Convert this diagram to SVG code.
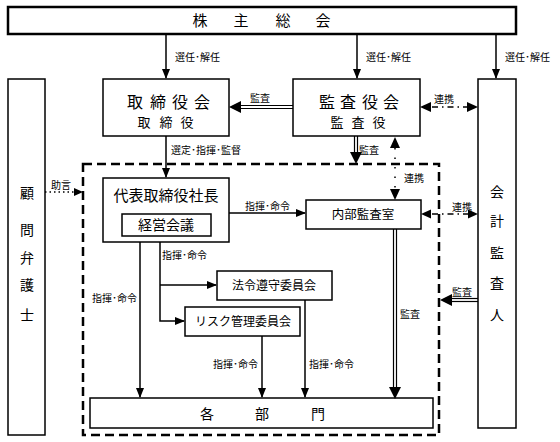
<svg xmlns="http://www.w3.org/2000/svg" width="560" height="442" viewBox="0 0 560 442">
<defs>
<style>
.box{fill:#fff;stroke:#000;stroke-width:1.5}
.thick{fill:#fff;stroke:#000;stroke-width:2.5}
.t{font-family:'Noto Sans CJK JP',sans-serif;fill:#000;text-anchor:middle}
.lbl{font-family:'Noto Sans CJK JP',sans-serif;fill:#000;font-size:10px}
.ln{stroke:#000;stroke-width:1.5;fill:none}
.dbl{stroke:#000;stroke-width:1.2;fill:none}
.dot{stroke:#000;stroke-width:1.5;fill:none;stroke-dasharray:1.5,3}
.dd{stroke:#000;stroke-width:1.5;fill:none;stroke-dasharray:6,4,1.5,4}
.dd2{stroke:#000;stroke-width:1.5;fill:none;stroke-dasharray:1.5,8}
</style>
<marker id="ah" markerWidth="10" markerHeight="8" refX="9" refY="4" orient="auto" markerUnits="userSpaceOnUse">
<path d="M0,0 L10,4 L0,8 z" fill="#000"/>
</marker>
<marker id="ahs" markerWidth="10" markerHeight="8" refX="1" refY="4" orient="auto" markerUnits="userSpaceOnUse">
<path d="M10,0 L0,4 L10,8 z" fill="#000"/>
</marker>
</defs>

<g id="dashed-area">
<rect x="83" y="164" width="356" height="271" fill="none" stroke="#000" stroke-width="2.5" stroke-dasharray="9,5"/>
</g>

<g id="kabunushi">
<rect class="thick" x="8" y="7" width="508" height="27"/>
<text class="t" font-size="15" x="200" y="26">株</text>
<text class="t" font-size="15" x="241" y="26">主</text>
<text class="t" font-size="15" x="283" y="26">総</text>
<text class="t" font-size="15" x="323" y="26">会</text>
</g>

<g id="torishimariyakukai">
<rect class="box" x="103" y="79" width="126" height="57"/>
<text class="t" font-size="16" x="135" y="108">取</text>
<text class="t" font-size="16" x="158" y="108">締</text>
<text class="t" font-size="16" x="180" y="108">役</text>
<text class="t" font-size="16" x="202" y="108">会</text>
<text class="t" font-size="13" x="144" y="127">取</text>
<text class="t" font-size="13" x="166" y="127">締</text>
<text class="t" font-size="13" x="187" y="127">役</text>
</g>

<g id="kansayakukai">
<rect class="box" x="293" y="79" width="127" height="57"/>
<text class="t" font-size="16" x="327" y="108">監</text>
<text class="t" font-size="16" x="348" y="108">査</text>
<text class="t" font-size="16" x="370" y="108">役</text>
<text class="t" font-size="16" x="391" y="108">会</text>
<text class="t" font-size="13" x="337" y="127">監</text>
<text class="t" font-size="13" x="358" y="127">査</text>
<text class="t" font-size="13" x="379" y="127">役</text>
</g>

<g id="komon">
<rect class="box" x="8" y="79" width="37" height="356"/>
<text class="t" font-size="14" x="27" y="198">顧</text>
<text class="t" font-size="14" x="27" y="235">問</text>
<text class="t" font-size="14" x="27" y="263">弁</text>
<text class="t" font-size="14" x="27" y="290">護</text>
<text class="t" font-size="14" x="27" y="320">士</text>
</g>

<g id="kaikei">
<rect class="box" x="478" y="79" width="38" height="349"/>
<text class="t" font-size="14" x="497" y="197">会</text>
<text class="t" font-size="14" x="497" y="226">計</text>
<text class="t" font-size="14" x="497" y="258">監</text>
<text class="t" font-size="14" x="497" y="288">査</text>
<text class="t" font-size="14" x="497" y="320">人</text>
</g>

<g id="shacho">
<rect class="box" x="103" y="178" width="126" height="64"/>
<text class="t" font-size="15" x="166" y="201">代表取締役社長</text>
<rect class="box" x="122" y="214" width="89" height="22"/>
<text class="t" font-size="14" x="166" y="230">経営会議</text>
</g>

<g id="naibukansa">
<rect class="box" x="306" y="200" width="115" height="29"/>
<text class="t" font-size="12.5" x="363" y="219">内部監査室</text>
</g>

<g id="horei">
<rect class="box" x="217" y="271" width="115" height="29"/>
<text class="t" font-size="12" x="274" y="290">法令遵守委員会</text>
</g>

<g id="risk">
<rect class="box" x="185" y="307" width="115" height="29"/>
<text class="t" font-size="12" x="243" y="326">リスク管理委員会</text>
</g>

<g id="kakubumon">
<rect class="box" x="90" y="398" width="343" height="30"/>
<text class="t" font-size="14" x="207" y="419">各</text>
<text class="t" font-size="14" x="262" y="419">部</text>
<text class="t" font-size="14" x="318" y="419">門</text>
</g>

<g id="connectors">
<!-- election arrows -->
<line class="ln" x1="166" y1="35" x2="166" y2="78" marker-end="url(#ah)"/>
<line class="ln" x1="357" y1="35" x2="357" y2="78" marker-end="url(#ah)"/>
<line class="ln" x1="496" y1="35" x2="496" y2="78" marker-end="url(#ah)"/>
<!-- 監査 kansayaku -> torishimariyaku -->
<line class="dbl" x1="293" y1="105.5" x2="240" y2="105.5"/>
<line class="dbl" x1="293" y1="108.5" x2="240" y2="108.5"/>
<path d="M229,107 L241,101 L241,113 z" fill="#000"/>
<!-- 連携 kansayaku <-> kaikei -->
<line class="dd" x1="432" y1="107" x2="468" y2="107"/>
<path d="M420,107 L431,102 L431,112 z" fill="#000"/>
<path d="M478,107 L467,102 L467,112 z" fill="#000"/>
<!-- 監査 down from kansayaku -->
<line class="dbl" x1="354.5" y1="136" x2="354.5" y2="153"/>
<line class="dbl" x1="357.5" y1="136" x2="357.5" y2="153"/>
<path d="M356,164 L350,152 L362,152 z" fill="#000"/>
<!-- 連携 kansayaku <-> naibukansa -->
<line class="dd2" x1="395" y1="148" x2="395" y2="190"/>
<path d="M395,137 L390,148 L400,148 z" fill="#000"/>
<path d="M395,200 L390,189 L400,189 z" fill="#000"/>
<!-- 選定・指揮・監督 -->
<line class="ln" x1="166" y1="136" x2="166" y2="177" marker-end="url(#ah)"/>
<!-- 助言 -->
<line class="dot" x1="45" y1="192" x2="75" y2="192"/>
<path d="M83,192 L74,188 L74,196 z" fill="#000"/>
<!-- shacho -> naibukansa -->
<line class="ln" x1="229" y1="213" x2="305" y2="213" marker-end="url(#ah)"/>
<!-- 連携 naibukansa <-> kaikei -->
<line class="dd" x1="432" y1="214" x2="468" y2="214"/>
<path d="M421,214 L431,209.5 L431,218.5 z" fill="#000"/>
<path d="M478,214 L468,209.5 L468,218.5 z" fill="#000"/>
<!-- shacho -> kakubumon -->
<line class="ln" x1="140" y1="242" x2="140" y2="397" marker-end="url(#ah)"/>
<!-- shacho -> committees -->
<polyline class="ln" points="160,242 160,321 184,321" marker-end="url(#ah)"/>
<line class="ln" x1="160" y1="285" x2="216" y2="285" marker-end="url(#ah)"/>
<!-- committees -> kakubumon -->
<line class="ln" x1="262" y1="336" x2="262" y2="397" marker-end="url(#ah)"/>
<line class="ln" x1="305" y1="300" x2="305" y2="397" marker-end="url(#ah)"/>
<!-- naibukansa 監査 -> kakubumon -->
<line class="dbl" x1="393.5" y1="229" x2="393.5" y2="388"/>
<line class="dbl" x1="396.5" y1="229" x2="396.5" y2="388"/>
<path d="M395,399 L389,387 L401,387 z" fill="#000"/>
<!-- kaikei 監査 -> dashed area -->
<line class="dbl" x1="478" y1="298.5" x2="451" y2="298.5"/>
<line class="dbl" x1="478" y1="301.5" x2="451" y2="301.5"/>
<path d="M440,300 L452,294 L452,306 z" fill="#000"/>
</g>

<g id="labels">
<text class="lbl" x="175" y="61">選任･解任</text>
<text class="lbl" x="366" y="61">選任･解任</text>
<text class="lbl" x="505" y="61">選任･解任</text>
<text class="lbl" x="250" y="102">監査</text>
<text class="lbl" x="434" y="103">連携</text>
<text class="lbl" x="359" y="154">監査</text>
<text class="lbl" x="171" y="154">選定･指揮･監督</text>
<text class="lbl" x="404" y="182">連携</text>
<text class="lbl" x="51" y="189">助言</text>
<text class="lbl" x="245" y="210">指揮･命令</text>
<text class="lbl" x="452" y="211">連携</text>
<text class="lbl" x="162" y="259">指揮･命令</text>
<text class="lbl" x="92" y="302">指揮･命令</text>
<text class="lbl" x="452" y="296">監査</text>
<text class="lbl" x="400" y="318">監査</text>
<text class="lbl" x="213" y="368">指揮･命令</text>
<text class="lbl" x="309" y="368">指揮･命令</text>
</g>
</svg>
